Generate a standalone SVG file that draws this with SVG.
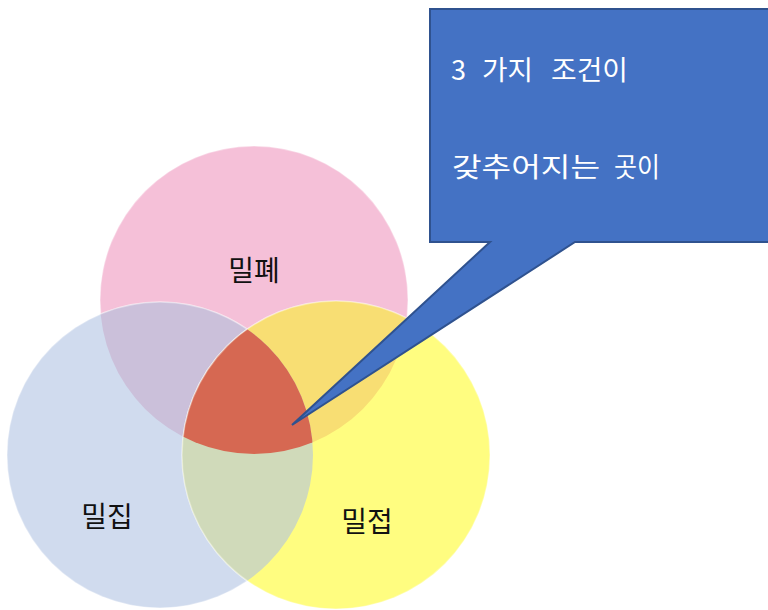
<svg xmlns="http://www.w3.org/2000/svg" width="768" height="610" viewBox="0 0 768 610">
<style>
.lbl{font-family:"Noto Sans CJK KR","Noto Sans",sans-serif;font-size:28px;fill:#111;text-anchor:middle;font-weight:400}
.cw{font-family:"Noto Sans CJK KR","Noto Sans",sans-serif;font-size:27px;fill:#fff}
.edge{stroke:#fff;stroke-opacity:0.35;stroke-width:1.5}
</style>
<defs>
<clipPath id="cP"><circle cx="254" cy="300" r="154"/></clipPath>
<clipPath id="cB"><circle cx="160" cy="455" r="153"/></clipPath>
</defs>
<rect width="768" height="610" fill="#fff"/>
<g id="circle-milpye"><circle class="edge" cx="254" cy="300" r="154" fill="#F5C0D8"/></g>
<g id="circle-miljip"><circle class="edge" cx="160" cy="455" r="153" fill="#D0DBEE"/></g>
<g id="circle-miljeop"><circle class="edge" cx="336" cy="455" r="154" fill="#FFFD80"/></g>
<g id="overlaps">
<circle class="edge" cx="160" cy="455" r="153" fill="#CBC0DA" clip-path="url(#cP)"/>
<circle class="edge" cx="336" cy="455" r="154" fill="#F8DE73" clip-path="url(#cP)"/>
<circle class="edge" cx="336" cy="455" r="154" fill="#D0DABA" clip-path="url(#cB)"/>
<g clip-path="url(#cP)"><circle class="edge" cx="336" cy="455" r="154" fill="#D66852" clip-path="url(#cB)"/></g>
</g>
<g id="labels">
<text class="lbl" x="254" y="281">밀폐</text>
<text class="lbl" x="107" y="527">밀집</text>
<text class="lbl" x="367" y="532">밀접</text>
</g>
<g id="callout">
<polygon points="430,9 772,9 772,242 575,242 292,425 490,242 430,242" fill="#4472C4" stroke="#2F528F" stroke-width="2" stroke-linejoin="miter"/>
<text class="cw" y="80"><tspan x="451">3</tspan><tspan x="482" textLength="51" lengthAdjust="spacingAndGlyphs">가지</tspan><tspan x="551" textLength="77" lengthAdjust="spacingAndGlyphs">조건이</tspan></text>
<text class="cw" y="177"><tspan x="452" textLength="148" lengthAdjust="spacingAndGlyphs">갖추어지는</tspan><tspan x="614" textLength="46" lengthAdjust="spacingAndGlyphs">곳이</tspan></text>
</g>
</svg>
